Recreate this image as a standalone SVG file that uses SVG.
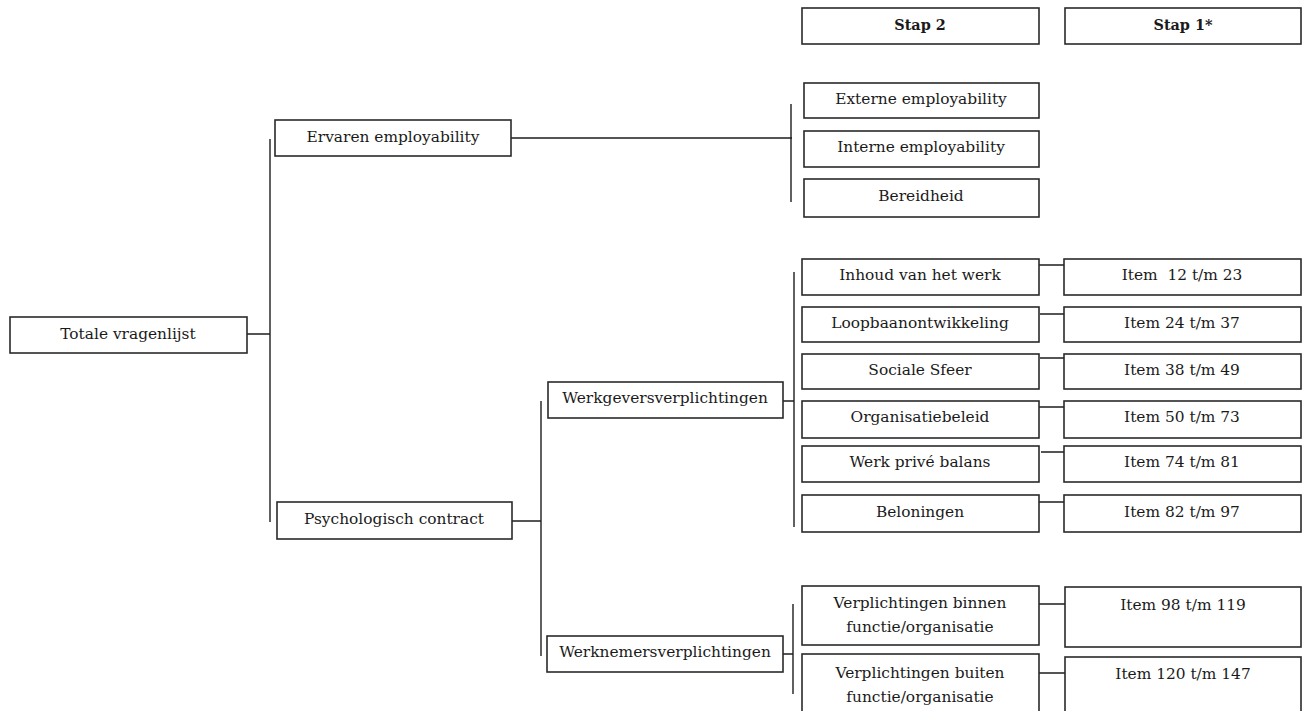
<svg xmlns="http://www.w3.org/2000/svg" width="1309" height="711" viewBox="0 0 1309 711">
<style>
.box{fill:#fff;stroke:#2a2a2a;stroke-width:1.6}
.t{font-family:"DejaVu Serif","Liberation Serif",serif;font-size:15.4px;fill:#1a1a1a;text-anchor:middle}
.b{font-weight:bold;font-size:14.4px}
.c{fill:none;stroke:#1e1e1e;stroke-width:1.4}
</style>
<rect width="1309" height="711" fill="#fff"/>
<g id="connectors">
<path class="c" d="M247 334H270M270 139V522M511 138H792M791 104V202M512 521H541M541 401V656M783 401H794M794 272V527M783 654H793M793 604V694"/>
<path class="c" d="M1038 265H1065M1040 314H1067M1040 358H1067M1036 407H1065M1041 452H1068M1037 502H1065M1037 604H1065M1037 673H1065"/>
</g>
<g id="stap2"><rect class="box" x="802" y="8" width="237" height="36"/><text class="t b" x="920" y="30">Stap 2</text></g>
<g id="stap1"><rect class="box" x="1065" y="8" width="236" height="36"/><text class="t b" x="1183" y="30">Stap 1*</text></g>
<g id="totale"><rect class="box" x="10" y="317" width="237" height="36"/><text class="t" x="128" y="339">Totale vragenlijst</text></g>
<g id="ervaren"><rect class="box" x="275" y="120" width="236" height="36"/><text class="t" x="393" y="142">Ervaren employability</text></g>
<g id="externe"><rect class="box" x="804" y="83" width="235" height="35"/><text class="t" x="921" y="104">Externe employability</text></g>
<g id="interne"><rect class="box" x="804" y="131" width="235" height="36"/><text class="t" x="921" y="152">Interne employability</text></g>
<g id="bereidheid"><rect class="box" x="804" y="179" width="235" height="38"/><text class="t" x="921" y="201">Bereidheid</text></g>
<g id="psych"><rect class="box" x="277" y="502" width="235" height="37"/><text class="t" x="394" y="524">Psychologisch contract</text></g>
<g id="werkgevers"><rect class="box" x="548" y="382" width="235" height="36"/><text class="t" x="665" y="403">Werkgeversverplichtingen</text></g>
<g id="werknemers"><rect class="box" x="547" y="636" width="236" height="36"/><text class="t" x="665" y="657">Werknemersverplichtingen</text></g>
<g id="inhoud"><rect class="box" x="802" y="259" width="237" height="36"/><text class="t" x="920" y="280">Inhoud van het werk</text></g>
<g id="item12"><rect class="box" x="1064" y="259" width="237" height="36"/><text class="t" x="1182" y="280" xml:space="preserve">Item  12 t/m 23</text></g>
<g id="loopbaan"><rect class="box" x="802" y="307" width="237" height="35"/><text class="t" x="920" y="328">Loopbaanontwikkeling</text></g>
<g id="item24"><rect class="box" x="1064" y="307" width="237" height="35"/><text class="t" x="1182" y="328">Item 24 t/m 37</text></g>
<g id="sociale"><rect class="box" x="802" y="354" width="237" height="35"/><text class="t" x="920" y="375">Sociale Sfeer</text></g>
<g id="item38"><rect class="box" x="1064" y="354" width="237" height="35"/><text class="t" x="1182" y="375">Item 38 t/m 49</text></g>
<g id="organisatie"><rect class="box" x="802" y="401" width="237" height="37"/><text class="t" x="920" y="422">Organisatiebeleid</text></g>
<g id="item50"><rect class="box" x="1064" y="401" width="237" height="37"/><text class="t" x="1182" y="422">Item 50 t/m 73</text></g>
<g id="werkprive"><rect class="box" x="802" y="446" width="237" height="36"/><text class="t" x="920" y="467">Werk privé balans</text></g>
<g id="item74"><rect class="box" x="1064" y="446" width="237" height="36"/><text class="t" x="1182" y="467">Item 74 t/m 81</text></g>
<g id="beloningen"><rect class="box" x="802" y="495" width="237" height="37"/><text class="t" x="920" y="517">Beloningen</text></g>
<g id="item82"><rect class="box" x="1064" y="495" width="237" height="37"/><text class="t" x="1182" y="517">Item 82 t/m 97</text></g>
<g id="binnen"><rect class="box" x="802" y="586" width="237" height="59"/><text class="t" x="920" y="608">Verplichtingen binnen</text><text class="t" x="920" y="632">functie/organisatie</text></g>
<g id="item98"><rect class="box" x="1065" y="587" width="236" height="60"/><text class="t" x="1183" y="610">Item 98 t/m 119</text></g>
<g id="buiten"><rect class="box" x="802" y="654" width="237" height="64"/><text class="t" x="920" y="678">Verplichtingen buiten</text><text class="t" x="920" y="702">functie/organisatie</text></g>
<g id="item120"><rect class="box" x="1065" y="657" width="236" height="64"/><text class="t" x="1183" y="679">Item 120 t/m 147</text></g>
</svg>
